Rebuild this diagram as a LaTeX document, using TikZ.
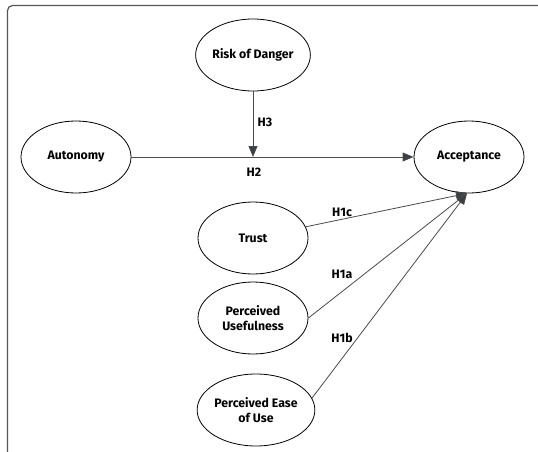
\documentclass[tikz,border=0pt]{standalone}
\usepackage{fontspec}
\setmainfont{Fira Sans}
\usetikzlibrary{shapes.geometric,arrows.meta}
\definecolor{linegray}{HTML}{4A4A4A}
\definecolor{framegray}{HTML}{555555}
\definecolor{tipgray}{HTML}{3A3F48}
\tikzset{
  construct/.style={ellipse, draw=black, line width=0.8pt, minimum width=110pt, minimum height=72pt, inner sep=0pt, align=center, font=\bfseries\fontsize{12.3}{15}\selectfont},
  conn/.style={draw=linegray, line width=0.8pt, -{Triangle[length=11pt,width=9pt,fill=tipgray]}},
  hlabel/.style={font=\bfseries\fontsize{12.3}{15}\selectfont, inner sep=0pt}
}
\begin{document}
\begin{tikzpicture}[x=1pt,y=-1pt]
\useasboundingbox (0,0) rectangle (538,452);
\clip (0,0) rectangle (538,452);
\draw[framegray, line width=1.2pt, rounded corners=5pt] (7.5,5.5) rectangle (560,470);
\node[construct] (risk) at (253,55) {Risk of Danger};
\node[construct] (auto) at (76,157) {Autonomy};
\node[construct] (acc) at (469,157) {Acceptance};
\node[construct] (trust) at (253,238) {Trust};
\node[construct] (pu) at (253,318) {Perceived\\Usefulness};
\node[construct] (peou) at (256,410) {Perceived Ease\\of Use};
\coordinate (h3end) at (risk.south |- auto.east);
\coordinate (acctip) at ([xshift=-2pt]acc.south);
\draw[conn] (risk) -- (h3end);
\draw[conn] (auto) -- (acc);
\draw[conn] (trust.12) -- (acctip);
\draw[conn] (pu.east) -- (acctip);
\draw[conn] (peou.12) -- (acctip);
\node[hlabel] (lh3) at (265,122) {H3};
\node[hlabel] (lh2) at (254,172) {H2};
\node[hlabel] (lh1c) at (342,212) {H1c};
\node[hlabel] (lh1a) at (342,274) {H1a};
\node[hlabel] (lh1b) at (342,338) {H1b};
\end{tikzpicture}
\end{document}
